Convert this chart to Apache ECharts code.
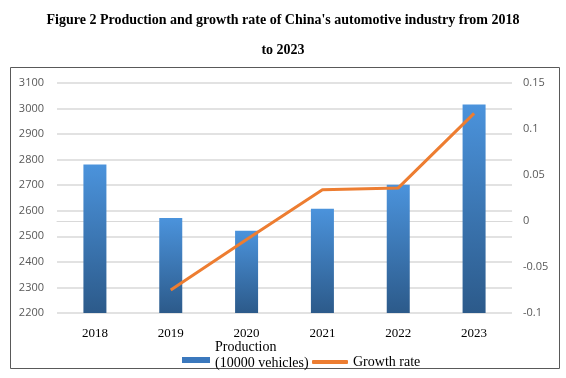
<!DOCTYPE html>
<html><head><meta charset="utf-8">
<script src="https://cdn.jsdelivr.net/npm/echarts@6/dist/echarts.min.js"></script>
<style>html,body{margin:0;padding:0;background:#fff}#c{width:566px;height:378px}</style>
</head><body><div id="c"></div>
<script>
const categories = ['2018','2019','2020','2021','2022','2023'];
const production = [2781, 2572, 2522, 2608, 2702, 3016];
const growthRate = [null, -0.075, -0.02, 0.034, 0.036, 0.117];
const leftTicks = [2200, 3100, 100];
const rightTicks = [-0.1, 0.15, 0.05];

const legendText = {fontFamily: 'Liberation Serif', fontSize: 14, color: '#000', lineHeight: 16};
const chart = echarts.init(document.getElementById('c'));
chart.setOption({
  animation: false,
  backgroundColor: '#fff',
  title: {
    text: "Figure 2 Production and growth rate of China's automotive industry from 2018\n\nto 2023",
    left: 'center', top: 8,
    textStyle: {fontFamily: 'Liberation Serif', fontWeight: 'bold', fontSize: 14, color: '#000', lineHeight: 15}
  },
  graphic: [{type: 'rect', shape: {x: 10.5, y: 67.5, width: 549, height: 301}, style: {fill: 'none', stroke: '#595959', lineWidth: 1}, z: -1}],
  grid: {left: 57, right: 54, top: 83, bottom: 65},
  legend: [{
    bottom: 2, left: 177, itemWidth: 28, itemHeight: 16, itemGap: 4,
    textStyle: legendText,
    data: [{name: 'Production\n(10000 vehicles)', icon: 'path://M0,0L0.01,0M0,10L28,10L28,16L0,16Z', itemStyle: {color: '#3b78bd'}}]
  }, {
    bottom: 3, left: 307, itemWidth: 36, itemHeight: 4,
    textStyle: legendText,
    data: [{name: 'Growth rate', icon: 'roundRect', itemStyle: {color: '#ed7d31'}}]
  }],
  xAxis: {
    type: 'category', data: categories,
    axisLine: {show: true, lineStyle: {color: '#d9d9d9'}}, axisTick: {show: false},
    axisLabel: {fontFamily: 'Liberation Serif', fontSize: 13, color: '#000', margin: 14}
  },
  yAxis: [{
    type: 'value', min: leftTicks[0], max: leftTicks[1], interval: leftTicks[2],
    axisLine: {show: false}, axisTick: {show: false},
    axisLabel: {fontFamily: 'Open Sans', fontSize: 11, color: '#595959', margin: 13, formatter: v => String(v)},
    splitLine: {lineStyle: {color: '#d9d9d9', width: 1.5}}
  }, {
    type: 'value', min: rightTicks[0], max: rightTicks[1], interval: rightTicks[2],
    axisLine: {show: false}, axisTick: {show: false},
    axisLabel: {fontFamily: 'Open Sans', fontSize: 11, color: '#595959', margin: 11},
    splitLine: {show: false}
  }],
  series: [{
    name: 'Production\n(10000 vehicles)', type: 'bar', data: production, barWidth: 23,
    itemStyle: {color: new echarts.graphic.LinearGradient(0, 0, 0, 1, [
      {offset: 0, color: '#4b93dc'}, {offset: 1, color: '#2c5a8a'}])}
  }, {
    name: 'Growth rate', type: 'line', yAxisIndex: 1, data: growthRate,
    symbol: 'none', lineStyle: {color: '#ed7d31', width: 3}, itemStyle: {color: '#ed7d31'}
  }]
});
</script></body></html>
